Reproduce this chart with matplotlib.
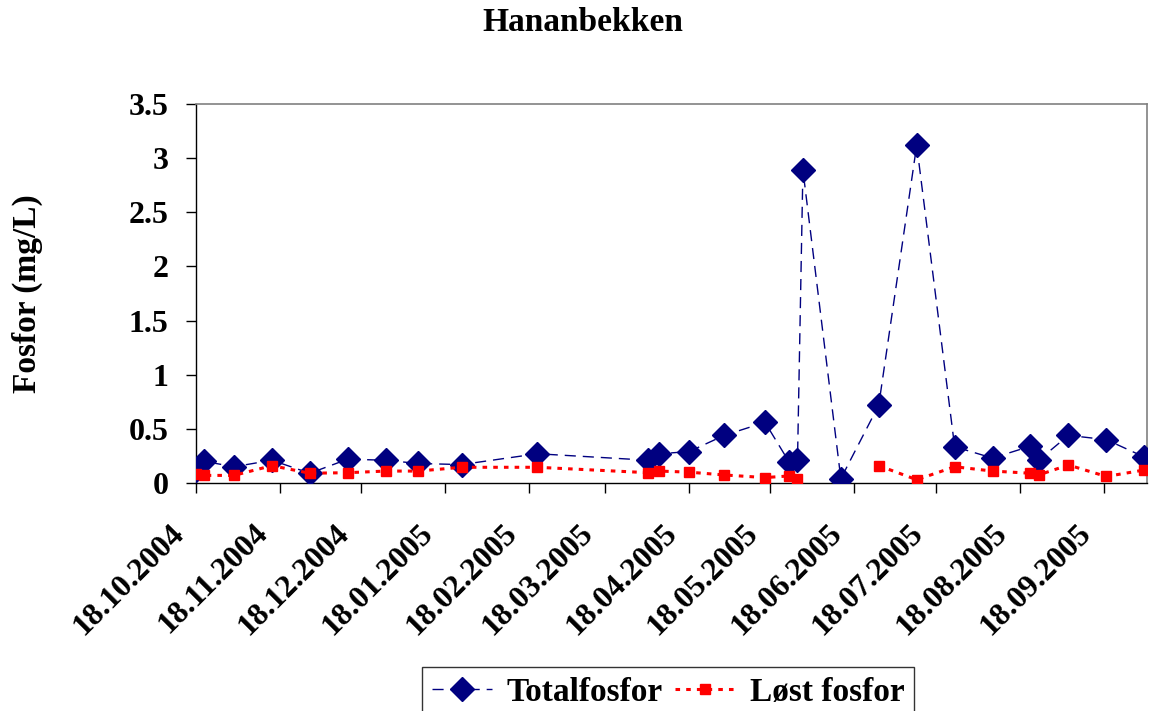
import matplotlib
matplotlib.use("Agg")
import matplotlib.pyplot as plt
import matplotlib.dates as mdates
import matplotlib.ticker as mticker
import matplotlib.transforms as mtransforms
import numpy as np
import pandas as pd

# sampling dates and phosphorus values (mg/L)
dates = [
    "18.10.2004", "21.10.2004", "01.11.2004", "15.11.2004", "29.11.2004",
    "13.12.2004", "27.12.2004", "08.01.2005", "24.01.2005", "21.02.2005",
    "03.04.2005", "07.04.2005", "18.04.2005", "01.05.2005", "16.05.2005",
    "25.05.2005", "28.05.2005", "30.05.2005", "13.06.2005", "27.06.2005",
    "11.07.2005", "25.07.2005", "08.08.2005", "22.08.2005", "25.08.2005",
    "05.09.2005", "19.09.2005", "03.10.2005",
]
totalfosfor = [
    0.12, 0.20, 0.15, 0.21, 0.09,
    0.22, 0.21, 0.18, 0.17, 0.27,
    0.21, 0.27, 0.29, 0.44, 0.56,
    0.19, 0.21, 2.89, 0.04, 0.72,
    3.12, 0.335, 0.23, 0.34, 0.21,
    0.44, 0.40, 0.24,
]
lost_fosfor = [
    0.08, 0.07, 0.07, 0.16, 0.09,
    0.095, 0.11, 0.11, 0.145, 0.145,
    0.095, 0.11, 0.10, 0.074, 0.05,
    0.065, 0.04, np.nan, np.nan, 0.16,
    0.03, 0.15, 0.11, 0.09, 0.074,
    0.166, 0.06, 0.12,
]
x_start = "18.10.2004"
x_end = "04.10.2005"
y_ticks = [0, 0.5, 1, 1.5, 2, 2.5, 3, 3.5]

plt.rcParams["font.family"] = ["Liberation Serif", "DejaVu Serif"]
plt.rcParams["font.weight"] = "bold"

x = pd.to_datetime(dates, format="%d.%m.%Y")

fig = plt.figure(figsize=(11.56, 7.11), dpi=100)
ax = fig.add_axes([0.1696, 0.3207, 0.8226, 0.5330])

ax.plot(x, totalfosfor, color="#000080", lw=1, ls=(0, (8, 5)),
        marker="D", ms=12, mec="#000080", mfc="#000080", label="Totalfosfor", zorder=3)
ax.plot(x, lost_fosfor, color="#ff0000", lw=2.2, ls=(0, (1.5, 2)),
        marker="s", ms=7, mec="#ff0000", mfc="#ff0000", label="Løst fosfor", zorder=4)

ax.set_xlim(pd.to_datetime(x_start, format="%d.%m.%Y"), pd.to_datetime(x_end, format="%d.%m.%Y"))
ax.set_ylim(0, 3.5)
ax.set_yticks(y_ticks)
ax.yaxis.set_major_formatter(mticker.FormatStrFormatter("%g"))
ax.xaxis.set_major_locator(mdates.MonthLocator(bymonthday=18))
ax.xaxis.set_major_formatter(mdates.DateFormatter("%d.%m.%Y"))

ax.tick_params(axis="both", direction="out", length=7, width=1, labelsize=23, colors="black")
ax.tick_params(axis="y", pad=13)
ax.tick_params(axis="x", pad=26)
# nudge the slanted date labels left so they end just before their tick
shift = mtransforms.ScaledTranslation(-12 / 72, 0, fig.dpi_scale_trans)
for lbl in ax.get_xticklabels():
    lbl.set_rotation(45)
    lbl.set_ha("right")
    lbl.set_va("center")
    lbl.set_rotation_mode("anchor")
    lbl.set_fontweight("bold")
    lbl.set_transform(lbl.get_transform() + shift)
for lbl in ax.get_yticklabels():
    lbl.set_fontweight("bold")

for side in ("top", "right"):
    ax.spines[side].set_color("#808080")
    ax.spines[side].set_linewidth(1.2)
for side in ("left", "bottom"):
    ax.spines[side].set_color("black")
    ax.spines[side].set_linewidth(1)

ax.set_ylabel("Fosfor (mg/L)", fontsize=24, fontweight="bold")
ax.yaxis.set_label_coords(-0.161, 0.5)
fig.suptitle("Hananbekken", x=0.504, y=0.99, fontsize=24, fontweight="bold")

leg = fig.legend(loc="upper center", bbox_to_anchor=(0.578, 0.062), ncol=2,
                 prop={"size": 24, "weight": "bold"}, frameon=True, fancybox=False,
                 edgecolor="black", handlelength=1.8, handletextpad=0.45,
                 columnspacing=0.35, borderpad=0.3, borderaxespad=0)
leg.get_frame().set_linewidth(1)

fig.savefig("out.png", dpi=100)
